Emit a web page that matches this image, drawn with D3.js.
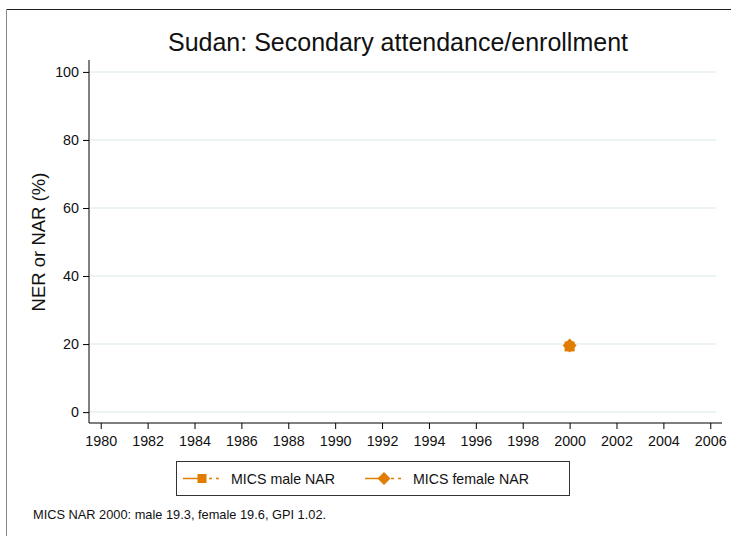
<!DOCTYPE html>
<html><head><meta charset="utf-8">
<script src="https://cdn.jsdelivr.net/npm/d3@7"></script>
<style>body{margin:0;background:#fff}svg{display:block;font-family:"Liberation Sans",Arial,sans-serif}</style>
</head><body><svg id="c" width="731" height="536"></svg>
<script>
const years = [2000];
const maleNAR = [19.3];
const femaleNAR = [19.6];
const xTicks = [1980,1982,1984,1986,1988,1990,1992,1994,1996,1998,2000,2002,2004,2006];
const yTicks = [0,20,40,60,80,100];
const seriesNames = ["MICS male NAR","MICS female NAR"];
const title = "Sudan: Secondary attendance/enrollment";
const yLabel = "NER or NAR (%)";
const note = "MICS NAR 2000: male 19.3, female 19.6, GPI 1.02.";
const orange = "#e07c00";

const svg = d3.select("#c");
svg.append("rect").attr("width",731).attr("height",536).attr("fill","#fff");
svg.append("line").attr("x1",6).attr("x2",731).attr("y1",9.5).attr("y2",9.5).attr("stroke","#222").attr("stroke-width",1);
svg.append("line").attr("x1",6.5).attr("x2",6.5).attr("y1",9).attr("y2",536).attr("stroke","#888").attr("stroke-width",1);

const L=89, R=722, T=60, B=423;
const x = d3.scaleLinear().domain([1979.5,2006.5]).range([L,R]);
const y = d3.scaleLinear().domain([-3.2,103.5]).range([B,T]);

const sqPath = s => `M${-s/2},${-s/2}H${s/2}V${s/2}H${-s/2}Z`;
const diPath = s => `M0,${-s/2}L${s/2},0L0,${s/2}L${-s/2},0Z`;

// grid
svg.append("g").selectAll("line").data(yTicks).join("line")
  .attr("x1",L).attr("x2",R-6).attr("y1",d=>y(d)).attr("y2",d=>y(d))
  .attr("stroke","#e6eff1").attr("stroke-width",1.5);

const xa = svg.append("g").attr("transform",`translate(0,${B})`)
  .call(d3.axisBottom(x).tickValues(xTicks).tickFormat(d3.format("d")).tickSize(6).tickPadding(7).tickSizeOuter(0));
const ya = svg.append("g").attr("transform",`translate(${L},0)`)
  .call(d3.axisLeft(y).tickValues(yTicks).tickSize(6).tickPadding(4).tickSizeOuter(0));
[xa,ya].forEach(a=>{
  a.attr("font-family","Liberation Sans, Arial, sans-serif");
  a.select(".domain").attr("stroke","#000").attr("stroke-width",1);
  a.selectAll(".tick line").attr("stroke","#000");
  a.selectAll("text").attr("font-size",14.3).attr("fill","#111");
});
ya.select(".domain").attr("d",`M0,${T}V${B}`);
xa.select(".domain").attr("d",`M0,0H${R-L}`).attr("transform",`translate(${L},0)`);

svg.append("text").attr("x",398).attr("y",51).attr("text-anchor","middle")
  .attr("font-size",25).attr("fill","#111").text(title);
svg.append("text").attr("transform",`translate(44.5,${(y(0)+y(100))/2}) rotate(-90)`)
  .attr("text-anchor","middle").attr("font-size",18.5).attr("fill","#111").text(yLabel);

// points
svg.append("g").selectAll("path").data(years.map((yr,i)=>[yr,maleNAR[i]])).join("path")
  .attr("d",sqPath(10)).attr("transform",d=>`translate(${x(d[0])},${y(d[1])})`).attr("fill",orange);
svg.append("g").selectAll("path").data(years.map((yr,i)=>[yr,femaleNAR[i]])).join("path")
  .attr("d",diPath(14)).attr("transform",d=>`translate(${x(d[0])},${y(d[1])})`).attr("fill",orange);

// legend
const lg = svg.append("g");
lg.append("rect").attr("x",176.5).attr("y",461.5).attr("width",393).attr("height",34)
  .attr("fill","#fff").attr("stroke","#333").attr("stroke-width",1);
const items = [{sx:183, sym:sqPath(9), name:seriesNames[0]},{sx:365, sym:diPath(13), name:seriesNames[1]}];
items.forEach(it=>{
  const cy=478.5;
  lg.append("line").attr("x1",it.sx).attr("x2",it.sx+19).attr("y1",cy).attr("y2",cy).attr("stroke",orange).attr("stroke-width",1.5);
  lg.append("path").attr("d",it.sym).attr("transform",`translate(${it.sx+19},${cy})`).attr("fill",orange);
  lg.append("line").attr("x1",it.sx+26).attr("x2",it.sx+40).attr("y1",cy).attr("y2",cy).attr("stroke",orange).attr("stroke-width",1.5).attr("stroke-dasharray","3,4");
  lg.append("text").attr("x",it.sx+48).attr("y",cy+5).attr("font-size",14.2).attr("fill","#111").text(it.name);
});

svg.append("text").attr("x",33).attr("y",519).attr("font-size",12.8).attr("fill","#111").text(note);
</script></body></html>
